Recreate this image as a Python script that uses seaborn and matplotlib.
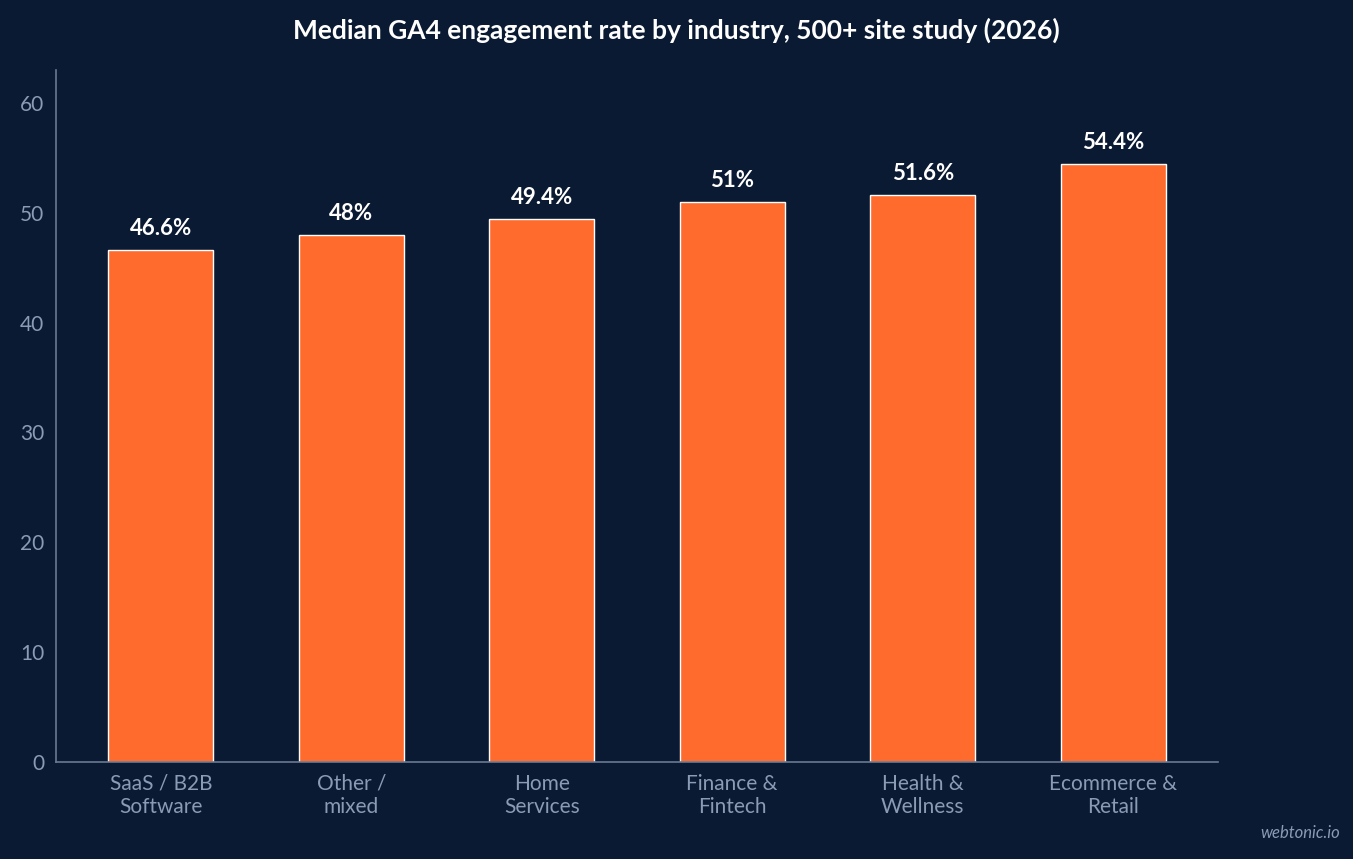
import matplotlib
matplotlib.use("Agg")
import matplotlib.pyplot as plt
import seaborn as sns
import pandas as pd

categories = ["SaaS / B2B\nSoftware", "Other /\nmixed", "Home\nServices", "Finance &\nFintech", "Health &\nWellness", "Ecommerce &\nRetail"]
values = [46.6, 48.0, 49.4, 51.0, 51.6, 54.4]
labels = ["46.6%", "48%", "49.4%", "51%", "51.6%", "54.4%"]

bg = "#0b1a33"
sns.set_style("dark")
plt.rcParams['font.family'] = ['Lato', 'DejaVu Sans']

fig = plt.figure(figsize=(13.53, 8.59), dpi=100, facecolor=bg)
ax = fig.add_axes([56/1353, 1-762/859, (1218-56)/1353, (762-70)/859])
ax.set_facecolor(bg)
df = pd.DataFrame({"cat": categories, "val": values})
sns.barplot(data=df, x="cat", y="val", color="#ff6b2c", saturation=1, width=0.55, ax=ax)
ax.set_xlim(-0.55, 5.55)
ax.set_ylim(0, 63)
ax.set_yticks(range(0, 61, 10))
ax.set_xlabel(""); ax.set_ylabel("")
ax.grid(False)
for s in ["top", "right"]:
    ax.spines[s].set_visible(False)
for s in ["left", "bottom"]:
    ax.spines[s].set_color("#6b7a93")
    ax.spines[s].set_linewidth(1.2)
ax.tick_params(colors="#8a9bb5", labelsize=15, length=5, color="#6b7a93")
for lab in ax.get_xticklabels() + ax.get_yticklabels():
    lab.set_color("#8a9bb5")
for i, (v, t) in enumerate(zip(values, labels)):
    ax.text(i, v + 1.0, t, ha="center", va="bottom", color="white", fontsize=16, fontweight="bold")
fig.text(0.5, 1-30/859, "Median GA4 engagement rate by industry, 500+ site study (2026)",
         ha="center", va="center", color="white", fontsize=19, fontweight="bold")
fig.text(1340/1353, 1-833/859, "webtonic.io", ha="right", va="center", color="#8a9bb5",
         fontsize=12, style="italic")
fig.savefig("out.png", facecolor=bg)
